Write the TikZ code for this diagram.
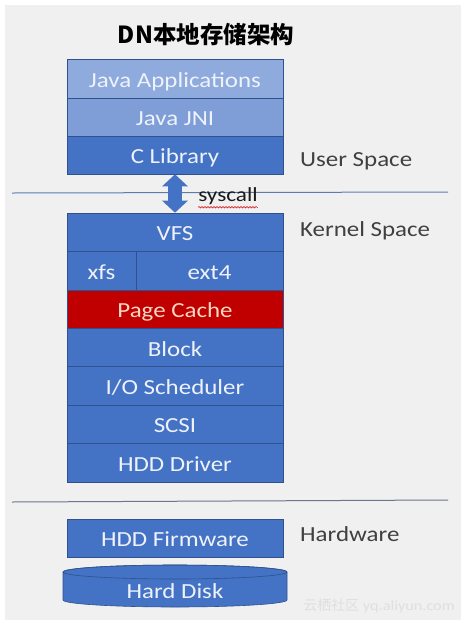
\documentclass[tikz,border=0pt]{standalone}
\usepackage{fontspec}
\setmainfont{Carlito}[FakeStretch=1.16]
\newfontfamily\cjkfont{Noto Sans CJK SC}
\usetikzlibrary{arrows.meta, decorations.pathmorphing, math}
\definecolor{layerblue}{RGB}{68,114,196}
\definecolor{paleblue}{RGB}{143,170,220}
\definecolor{softblue}{RGB}{127,158,216}
\definecolor{edgeblue}{RGB}{47,82,143}
\definecolor{layertext}{RGB}{238,242,250}
\definecolor{cachered}{RGB}{192,0,0}
\definecolor{cachetext}{RGB}{250,215,195}
\definecolor{bggray}{RGB}{240,240,241}
\definecolor{sepblue}{RGB}{95,122,175}
\definecolor{sepgray}{RGB}{110,118,140}
\definecolor{labelgray}{RGB}{64,64,64}

\tikzset{
  layer/.style={draw=edgeblue, fill=layerblue, text=layertext, line width=0.6pt,
    minimum width=216pt, minimum height=38.4pt, inner sep=0pt,
    text height=17.4pt, text depth=0pt,
    font=\fontsize{21.5}{24}\selectfont},
  spacelabel/.style={anchor=west, text=labelgray, inner sep=0pt,
    font=\fontsize{21.5}{24}\selectfont},
  sepline/.style={line width=1pt}
}

\begin{document}
\begin{tikzpicture}[x=1pt,y=-1pt]
\tikzmath{
\xm=175;
\h=38.4;
\yk=213;
}
\useasboundingbox (0,0) rectangle (466,625);
\fill[white] (0,0) rectangle (466,625);
\fill[bggray] (5,5) rectangle (461,620);

% title
\node[font=\cjkfont\bfseries\fontsize{23.5}{26}\selectfont] (title) at (206,35) {DN本地存储架构};

% user space
\node[layer, fill=paleblue, minimum height=39pt] (apps) at (\xm,78.5) {Java Applications};
\node[layer, fill=softblue, minimum height=38pt] (jni) at (\xm,117) {Java JNI};
\node[layer, minimum height=38pt] (clib) at (\xm,155) {C Library};
\node[spacelabel] (user) at (300,161) {User Space};

% separator user / kernel
\coordinate (s1a) at (12,193);
\coordinate (s1b) at (448,192);
\draw[sepline, sepblue] (s1a) -- (s1b);

% kernel space
\node[layer] (vfs) at (\xm,\yk+0.5*\h) {VFS};
\node[layer, minimum width=69pt] (xfs) at (101.5,\yk+1.5*\h) {xfs};
\node[layer, minimum width=147pt] (ext) at (209.5,\yk+1.5*\h) {ext4};
\node[layer, fill=cachered, text=cachetext] (cache) at (\xm,\yk+2.5*\h) {Page Cache};
\node[layer] (block) at (\xm,\yk+3.5*\h) {Block};
\node[layer] (sched) at (\xm,\yk+4.5*\h) {I/O Scheduler};
\node[layer] (scsi) at (\xm,\yk+5.5*\h) {SCSI};
\node[layer] (driver) at (\xm,\yk+6.5*\h) {HDD Driver};
\node[spacelabel] (kernel) at (300,231) {Kernel Space};

% syscall arrow
\draw[layerblue, line width=14pt,
  {Triangle[width=25pt,length=12pt]}-{Triangle[width=25pt,length=12pt]}]
  (clib.south) -- (vfs.north);
\node[font=\fontsize{20}{22}\selectfont, text=black!90, inner sep=0pt] (sys) at (228,196.5) {syscall};
\draw[red!85!black, line width=0.5pt, decorate,
  decoration={snake, amplitude=0.8pt, segment length=3pt}]
  ([yshift=-2pt]sys.south west) -- ([yshift=-2pt]sys.south east);

% separator kernel / hardware
\coordinate (s2a) at (12,502);
\coordinate (s2b) at (448,500);
\draw[sepline, sepgray] (s2a) -- (s2b);

% hardware
\node[layer, minimum height=38pt] (firm) at (\xm,538) {HDD Firmware};
\node[spacelabel] (hw) at (300,534) {Hardware};

\filldraw[fill=layerblue, draw=edgeblue, line width=0.6pt]
  (63,572) -- (63,600) arc[start angle=180, end angle=0, x radius=112, y radius=7]
  -- (287,572) arc[start angle=0, end angle=-180, x radius=112, y radius=7] -- cycle;
\draw[edgeblue, line width=0.6pt] (\xm,572) ellipse[x radius=112, y radius=7];
\node[text=layertext, inner sep=0pt, font=\fontsize{21.5}{24}\selectfont] (disk) at (\xm,591) {Hard Disk};

% watermark
\node[text=gray!25, inner sep=0pt, anchor=east, font=\fontsize{14}{16}\selectfont] (mark) at (455,606) {{\cjkfont 云栖社区} yq.aliyun.com};
\end{tikzpicture}
\end{document}
